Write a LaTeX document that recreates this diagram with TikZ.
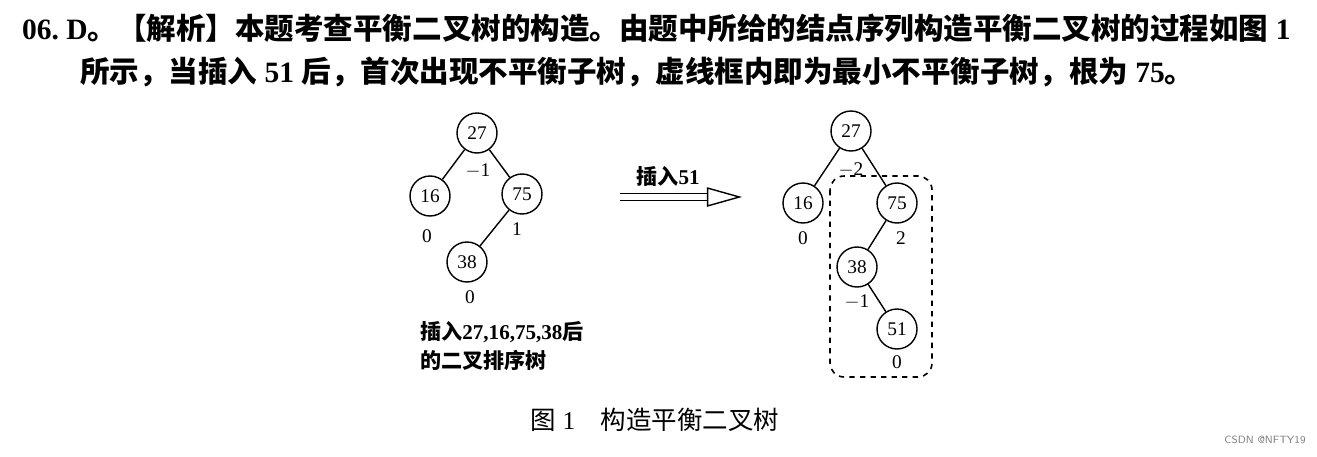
\documentclass[tikz,border=0pt]{standalone}
\usepackage{fontspec}
\setmainfont{Liberation Serif}
\newfontfamily\cjk{Noto Sans CJK SC}
\usetikzlibrary{positioning,arrows.meta}
\begin{document}
\begin{tikzpicture}[x=0.02cm,y=-0.02cm,
    vertex/.style={draw,circle,line width=0.8pt,minimum size=0.8cm,inner sep=0pt,font=\fontsize{11}{12}\selectfont},
    bf/.style={font=\fontsize{11}{12}\selectfont},
    edge/.style={line width=0.8pt}]
  \useasboundingbox (0,0) rectangle (1317,456);
  % header text
  \node[anchor=west,font=\fontsize{16.8}{20}\selectfont\bfseries] (head1) at (16,28) {06.\ D{\cjk 。【解析】本题考查平衡二叉树的构造。由题中所给的结点序列构造平衡二叉树的过程如图} 1};
  \node[anchor=west,font=\fontsize{16.8}{20}\selectfont\bfseries] (head2) at (74,72) {{\cjk 所示，当插入} 51 {\cjk 后，首次出现不平衡子树，虚线框内即为最小不平衡子树，根为} 75{\cjk 。}};
  % left tree
  \node[vertex] (a27) at (477,133) {27};
  \node[vertex] (a16) at (430,196) {16};
  \node[vertex] (a75) at (522,194) {75};
  \node[vertex] (a38) at (467,262) {38};
  \draw[edge] (a27) -- (a16);
  \draw[edge] (a27) -- (a75);
  \draw[edge] (a75) -- (a38);
  \path[bf] (478,171) node{$-$1} (427,236) node{0} (517,229) node{1} (470,297) node{0};
  \node[anchor=west,font=\fontsize{12}{16}\selectfont\bfseries,align=left] (capl) at (414,346) {{\cjk 插入}27,16,75,38{\cjk 后}\\{\cjk 的二叉排序树}};
  % arrow
  \node[font=\fontsize{12}{13}\selectfont\bfseries] (ins) at (668,176) {{\cjk 插入}51};
  \coordinate (arrA) at (620,197);
  \coordinate (arrB) at (742,197);
  \draw[line width=0.8pt,double distance=3pt,-{Triangle[open,length=20pt,width=11pt]}] (arrA) -- (arrB);
  % right tree
  \node[vertex] (b27) at (851,131) {27};
  \node[vertex] (b16) at (803,203) {16};
  \node[vertex] (b75) at (897,203) {75};
  \node[vertex] (b38) at (857,267) {38};
  \node[vertex] (b51) at (897,329) {51};
  \draw[edge] (b27) -- (b16);
  \draw[edge] (b27) -- (b75);
  \draw[edge] (b75) -- (b38);
  \draw[edge] (b38) -- (b51);
  \path[bf] (851,170) node{$-$2} (803,238) node{0} (901,238) node{2} (857,302) node{$-$1} (897,362) node{0};
  \draw[dashed,line width=0.9pt,rounded corners=8pt] (830,176) rectangle (932,377);
  % caption
  \node[font=\fontsize{14.5}{16}\selectfont] (fig) at (655,420) {{\cjk 图} 1\quad{\cjk 构造平衡二叉树}};
  \node[font=\fontsize{6}{7}\selectfont\sffamily,text=gray] (mark) at (1265,440) {CSDN @NFTY19};
\end{tikzpicture}
\end{document}
